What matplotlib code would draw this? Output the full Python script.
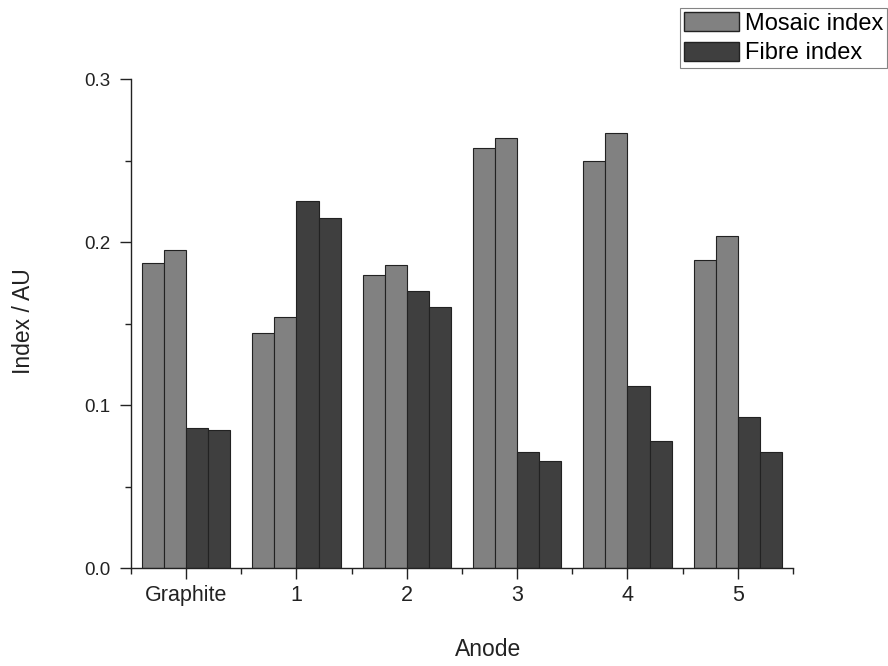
import matplotlib
matplotlib.use("Agg")
import matplotlib.pyplot as plt
import numpy as np
from matplotlib.ticker import MultipleLocator, FixedLocator
from matplotlib.patches import Patch

plt.rcParams['font.family'] = ['Liberation Sans', 'DejaVu Sans']

categories = ["Graphite", "1", "2", "3", "4", "5"]
mosaic_a = [0.187, 0.144, 0.180, 0.258, 0.250, 0.189]
mosaic_b = [0.195, 0.154, 0.186, 0.264, 0.267, 0.204]
fibre_a = [0.086, 0.225, 0.170, 0.071, 0.112, 0.093]
fibre_b = [0.085, 0.215, 0.160, 0.066, 0.078, 0.071]

mosaic_color = "#818181"
fibre_color = "#3f3f3f"
ink = "#222222"

fig = plt.figure(figsize=(8.88, 6.66), dpi=100)
ax = fig.add_axes([0.1475, 0.147, 0.7455, 0.734])

x = np.arange(len(categories))
w = 0.2
series = [(mosaic_a, mosaic_color), (mosaic_b, mosaic_color),
          (fibre_a, fibre_color), (fibre_b, fibre_color)]
for i, (vals, col) in enumerate(series):
    ax.bar(x + (i - 1.5) * w, vals, width=w, color=col,
           edgecolor=ink, linewidth=0.8)

ax.set_xlim(-0.5, 5.5)
ax.set_ylim(0, 0.3)
ax.set_xticks(x)
ax.set_xticklabels(categories)
ax.xaxis.set_minor_locator(FixedLocator(np.arange(-0.5, 5.6, 1.0)))
ax.yaxis.set_major_locator(MultipleLocator(0.1))
ax.yaxis.set_minor_locator(MultipleLocator(0.05))
ax.yaxis.set_major_formatter(matplotlib.ticker.FormatStrFormatter('%.1f'))

for s in ["top", "right"]:
    ax.spines[s].set_visible(False)
for s in ["left", "bottom"]:
    ax.spines[s].set_linewidth(1.0)
    ax.spines[s].set_color(ink)

ax.tick_params(axis="both", which="major", direction="out", length=8, width=1.0,
               colors=ink)
ax.tick_params(axis="both", which="minor", direction="out", length=4, width=1.0,
               colors=ink)
ax.tick_params(axis="x", which="major", labelsize=15.5, pad=4)
ax.tick_params(axis="y", which="major", labelsize=13.5, pad=7)

ax.set_xlabel("Anode", fontsize=16.5, color=ink, va="center")
ax.set_ylabel("Index / AU", fontsize=16.5, color=ink, va="center")
ax.xaxis.set_label_coords(0.539, -0.166)
ax.yaxis.set_label_coords(-0.163, 0.505)

handles = [Patch(facecolor=mosaic_color, edgecolor=ink, label="Mosaic index"),
           Patch(facecolor=fibre_color, edgecolor=ink, label="Fibre index")]
leg = fig.legend(handles=handles, loc="upper right", bbox_to_anchor=(0.999, 0.988),
                 fontsize=17, frameon=True, fancybox=False, edgecolor="#666666",
                 handlelength=2.3, handleheight=0.85, handletextpad=0.26,
                 borderpad=0.17, labelspacing=0.3, borderaxespad=0)
leg.get_frame().set_linewidth(0.8)

fig.savefig("out.png", dpi=100)
